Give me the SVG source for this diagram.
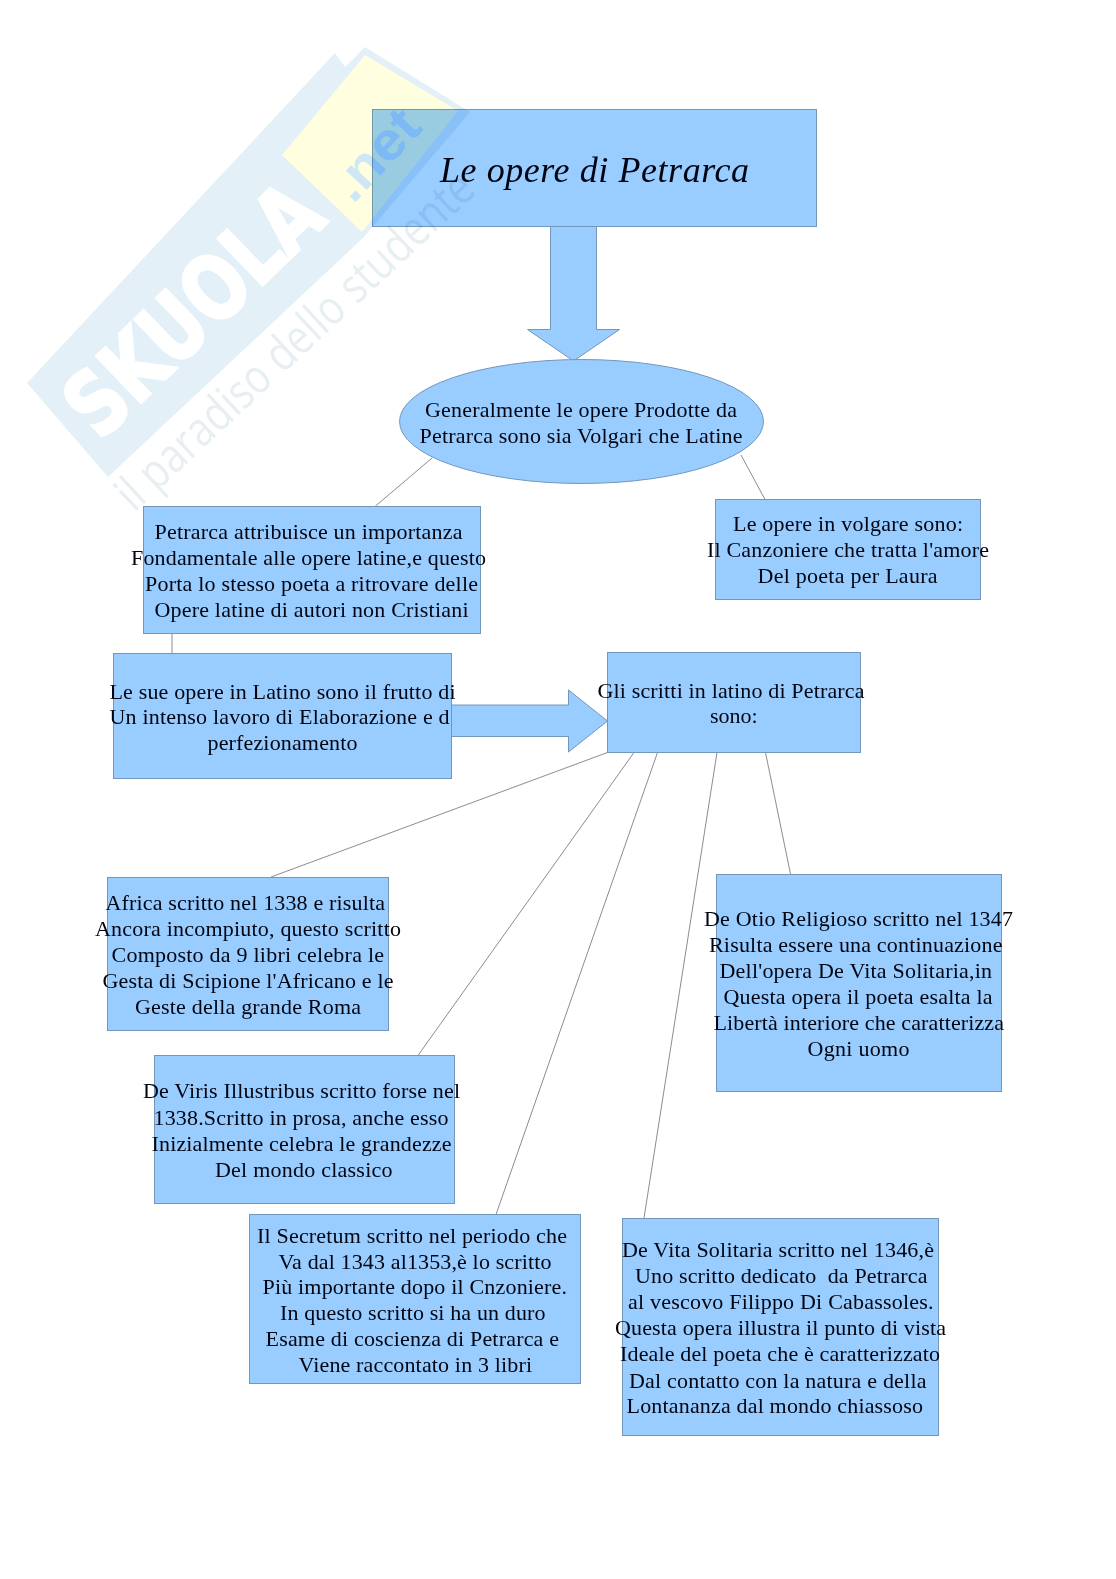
<svg xmlns="http://www.w3.org/2000/svg" width="1116" height="1579" viewBox="0 0 1116 1579">
<style>
.n{fill:#99ccff;stroke:#7397ba;stroke-width:1}
.c{stroke:#555c63;stroke-width:.7;fill:none}
.t{font-family:"Liberation Serif","Times New Roman",serif;font-size:22px;fill:#000511}
.h{font-family:"Liberation Serif","Times New Roman",serif;font-size:36px;font-style:italic;fill:#000511}
#watermark{mix-blend-mode:multiply}
.w1{font-family:"DejaVu Sans",sans-serif;font-weight:700;fill:#fff;stroke:#fff;stroke-width:3}
.w2{font-family:"Liberation Sans",Arial,sans-serif;font-weight:700;fill:#cfe7f5}
.w3{font-family:"Open Sans","DejaVu Sans",sans-serif;font-weight:400;fill:#e8eff3}
</style>
<rect width="1116" height="1579" fill="#fff"/>
<g id="connectors">
<line class="c" x1="432" y1="458" x2="375" y2="506.5"/>
<line class="c" x1="741" y1="455" x2="765" y2="499.5"/>
<line class="c" x1="172" y1="633" x2="172" y2="653.5"/>
<line class="c" x1="607.5" y1="752.5" x2="271" y2="877"/>
<line class="c" x1="634" y1="752.5" x2="418" y2="1055.5"/>
<line class="c" x1="657.5" y1="752.5" x2="496" y2="1214.5"/>
<line class="c" x1="717" y1="752.5" x2="644" y2="1218"/>
<line class="c" x1="765.5" y1="752.5" x2="790.5" y2="874"/>
<polygon id="arrow-down" class="n" points="550.5,226.5 596.5,226.5 596.5,329.5 619.5,329.5 573.5,361 527.5,329.5 550.5,329.5"/>
<polygon id="arrow-right" class="n" points="451.5,705 568.5,705 568.5,690 607.5,721 568.5,752 568.5,736.5 451.5,736.5"/>
</g>
<g id="title"><rect class="n" x="372.5" y="109.5" width="444" height="117"/>
<text class="h" x="440" y="182" textLength="309">Le opere di Petrarca</text></g>
<g id="intro"><ellipse class="n" cx="581.5" cy="421.5" rx="182" ry="62"/>
<text class="t" x="425" y="417" textLength="312">Generalmente le opere Prodotte da</text>
<text class="t" x="419.5" y="443" textLength="323">Petrarca sono sia Volgari che Latine</text></g>
<g id="importanza"><rect class="n" x="143.5" y="506.5" width="337" height="127"/>
<text class="t" x="154.5" y="539" textLength="308">Petrarca attribuisce un importanza</text>
<text class="t" x="131" y="565" textLength="355">Fondamentale alle opere latine,e questo</text>
<text class="t" x="145" y="591" textLength="333">Porta lo stesso poeta a ritrovare delle</text>
<text class="t" x="154.5" y="617" textLength="314">Opere latine di autori non Cristiani</text></g>
<g id="volgare"><rect class="n" x="715.5" y="499.5" width="265" height="100"/>
<text class="t" x="733" y="531" textLength="230">Le opere in volgare sono:</text>
<text class="t" x="707" y="557" textLength="282">Il Canzoniere che tratta l'amore</text>
<text class="t" x="757.5" y="583" textLength="180">Del poeta per Laura</text></g>
<g id="frutto"><rect class="n" x="113.5" y="653.5" width="338" height="125"/>
<text class="t" x="109.5" y="699" textLength="346">Le sue opere in Latino sono il frutto di</text>
<text class="t" x="109.5" y="724" textLength="340">Un intenso lavoro di Elaborazione e d</text>
<text class="t" x="207.5" y="750" textLength="150">perfezionamento</text></g>
<g id="scritti"><rect class="n" x="607.5" y="652.5" width="253" height="100"/>
<text class="t" x="597.5" y="698" textLength="267">Gli scritti in latino di Petrarca</text>
<text class="t" x="710" y="723" textLength="47.5">sono:</text></g>
<g id="africa"><rect class="n" x="107.5" y="877.5" width="281" height="153"/>
<text class="t" x="105.5" y="910" textLength="279.5">Africa scritto nel 1338 e risulta</text>
<text class="t" x="95" y="936" textLength="306">Ancora incompiuto, questo scritto</text>
<text class="t" x="111.5" y="962" textLength="272.5">Composto da 9 libri celebra le</text>
<text class="t" x="102.5" y="988" textLength="291">Gesta di Scipione l'Africano e le</text>
<text class="t" x="135" y="1014" textLength="226">Geste della grande Roma</text></g>
<g id="viris"><rect class="n" x="154.5" y="1055.5" width="300" height="148"/>
<text class="t" x="143" y="1098" textLength="317">De Viris Illustribus scritto forse nel</text>
<text class="t" x="153.5" y="1125" textLength="295">1338.Scritto in prosa, anche esso</text>
<text class="t" x="151.5" y="1151" textLength="300">Inizialmente celebra le grandezze</text>
<text class="t" x="215" y="1177" textLength="177.5">Del mondo classico</text></g>
<g id="otio"><rect class="n" x="716.5" y="874.5" width="285" height="217"/>
<text class="t" x="704" y="926" textLength="309">De Otio Religioso scritto nel 1347</text>
<text class="t" x="709" y="952" textLength="293.5">Risulta essere una continuazione</text>
<text class="t" x="719.5" y="978" textLength="272.5">Dell'opera De Vita Solitaria,in</text>
<text class="t" x="723.5" y="1004" textLength="269">Questa opera il poeta esalta la</text>
<text class="t" x="713.5" y="1030" textLength="290.5">Libertà interiore che caratterizza</text>
<text class="t" x="807.5" y="1056" textLength="102">Ogni uomo</text></g>
<g id="secretum"><rect class="n" x="249.5" y="1214.5" width="331" height="169"/>
<text class="t" x="257" y="1243" textLength="310">Il Secretum scritto nel periodo che</text>
<text class="t" x="278.5" y="1269" textLength="273">Va dal 1343 al1353,è lo scritto</text>
<text class="t" x="262.5" y="1294" textLength="304.5">Più importante dopo il Cnzoniere.</text>
<text class="t" x="280" y="1320" textLength="265.5">In questo scritto si ha un duro</text>
<text class="t" x="265.5" y="1346" textLength="293.5">Esame di coscienza di Petrarca e</text>
<text class="t" x="298.5" y="1372" textLength="233.5">Viene raccontato in 3 libri</text></g>
<g id="vita"><rect class="n" x="622.5" y="1218.5" width="316" height="217"/>
<text class="t" x="622" y="1257" textLength="312">De Vita Solitaria scritto nel 1346,è</text>
<text class="t" x="635" y="1283" textLength="292.5" xml:space="preserve">Uno scritto dedicato  da Petrarca</text>
<text class="t" x="628" y="1309" textLength="305.5">al vescovo Filippo Di Cabassoles.</text>
<text class="t" x="615" y="1335" textLength="331">Questa opera illustra il punto di vista</text>
<text class="t" x="620" y="1361" textLength="320">Ideale del poeta che è caratterizzato</text>
<text class="t" x="629" y="1388" textLength="297.5">Dal contatto con la natura e della</text>
<text class="t" x="626.5" y="1413" textLength="296.5">Lontananza dal mondo chiassoso</text></g>
<g id="watermark">
<polygon points="27,383 335,53 345,67 365,47 470,112 363,238 108,477" fill="#e3f0f8"/>
<polygon points="282,155 365,55 458,111 362,232" fill="#ffffe0"/>
<text class="w1" transform="translate(100,442) rotate(-44)" font-size="88" textLength="318" lengthAdjust="spacingAndGlyphs">SKUOLA</text>
<text class="w2" transform="translate(353,205) rotate(-47)" font-size="54" textLength="104" lengthAdjust="spacingAndGlyphs">.net</text>
<text class="w3" transform="translate(134,513) rotate(-43)" font-size="48" textLength="470" lengthAdjust="spacingAndGlyphs">il paradiso dello studente</text>
</g>
</svg>
